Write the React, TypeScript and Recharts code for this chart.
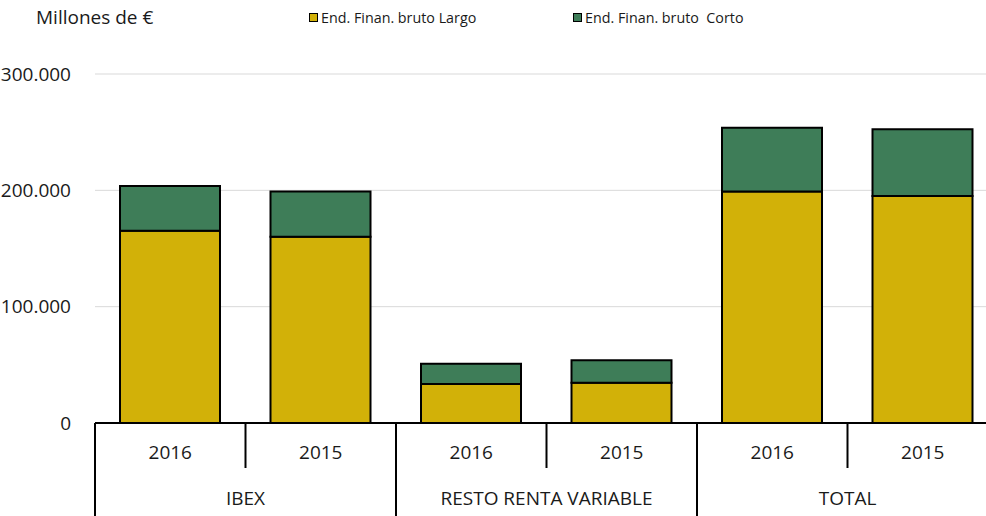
import React from 'react';
import { BarChart, Bar, XAxis, YAxis, CartesianGrid, Legend } from 'recharts';

const categories = ['2016', '2015', '2016', '2015', '2016', '2015'];
const groups = ['IBEX', 'IBEX', 'RESTO RENTA VARIABLE', 'RESTO RENTA VARIABLE', 'TOTAL', 'TOTAL'];
const largo = [165300, 160200, 33500, 34700, 198900, 195200];
const corto = [38500, 38700, 17500, 19200, 55000, 57300];
const yTicks = [0, 100000, 200000, 300000];
const seriesNames = ['End. Finan. bruto Largo', 'End. Finan. bruto  Corto'];
const unitLabel = 'Millones de €';

const data = categories.map((c, i) => ({
  key: `${groups[i]}-${c}-${i}`,
  year: c,
  group: groups[i],
  largo: largo[i],
  corto: corto[i],
}));

const W = 1000;
const H = 516;
const LEG_H = 40;
const M = { top: 74 - LEG_H, right: 2, bottom: 0, left: 0 };
const Y_W = 95;
const X_H = 93;
const BAND = (W - M.left - M.right - Y_W) / categories.length;
const FONT = '"Open Sans", sans-serif';
const GOLD = '#D2B108';
const GREEN = '#3E7D58';
const TEXT = '#1a1a1a';

const fmt = (v: number) => String(v).replace(/\B(?=(\d{3})+(?!\d))/g, '.');

const XTick = (props: any) => {
  const { x, y, index } = props;
  const d = data[index];
  const left = x - BAND / 2;
  const first = index % 2 === 0;
  return (
    <g>
      <line x1={left} x2={left} y1={y} y2={first ? H : y + 45} stroke="#000" strokeWidth={2} />
      <text x={x} y={y + 31} textAnchor="middle" dominantBaseline="middle" fontSize={19} fontFamily={FONT} fill={TEXT}>
        {d.year}
      </text>
      {first && (
        <text x={x + BAND / 2} y={y + 77} textAnchor="middle" dominantBaseline="middle" fontSize={19} fontFamily={FONT} fill={TEXT}>
          {d.group}
        </text>
      )}
    </g>
  );
};

const LegendContent = () => (
  <div style={{ position: 'relative', width: 986, height: LEG_H, fontFamily: FONT, color: TEXT }}>
    <span style={{ position: 'absolute', left: 36, top: 4, fontSize: 19, whiteSpace: 'pre' }}>{unitLabel}</span>
    {[GOLD, GREEN].map((col, i) => (
      <div key={i} style={{ position: 'absolute', left: i === 0 ? 309 : 573, top: 8, display: 'flex', alignItems: 'center' }}>
        <span style={{ width: 7, height: 7, background: col, border: '1.5px solid #000', display: 'inline-block', marginRight: 3 }} />
        <span style={{ fontSize: 14.3, whiteSpace: 'pre' }}>{seriesNames[i]}</span>
      </div>
    ))}
  </div>
);

export default function App() {
  return (
    <div style={{ position: 'absolute', left: 0, top: 0, width: 986, height: 516, overflow: 'hidden', background: '#fff' }}>
      <BarChart width={W} height={H} data={data} margin={M} barSize={100}>
        <CartesianGrid vertical={false} stroke="#d9d9d9" strokeWidth={1} />
        <Legend
          verticalAlign="top"
          content={<LegendContent />}
          wrapperStyle={{ position: 'absolute', left: 0, top: 0, width: 986, height: LEG_H, margin: 0, padding: 0 }}
        />
        <YAxis
          width={Y_W}
          domain={[0, 300000]}
          ticks={yTicks}
          tickFormatter={fmt}
          axisLine={false}
          tickLine={false}
          tickMargin={18}
          tick={{ fontSize: 19, fontFamily: FONT, fill: TEXT }}
        />
        <XAxis
          dataKey="key"
          height={X_H}
          interval={0}
          axisLine={{ stroke: '#000', strokeWidth: 2 }}
          tickLine={false}
          tickSize={0}
          tickMargin={0}
          tick={<XTick />}
        />
        <Bar dataKey="largo" name={seriesNames[0]} stackId="a" fill={GOLD} stroke="#000" strokeWidth={2} isAnimationActive={false} />
        <Bar dataKey="corto" name={seriesNames[1]} stackId="a" fill={GREEN} stroke="#000" strokeWidth={2} isAnimationActive={false} />
      </BarChart>
    </div>
  );
}
